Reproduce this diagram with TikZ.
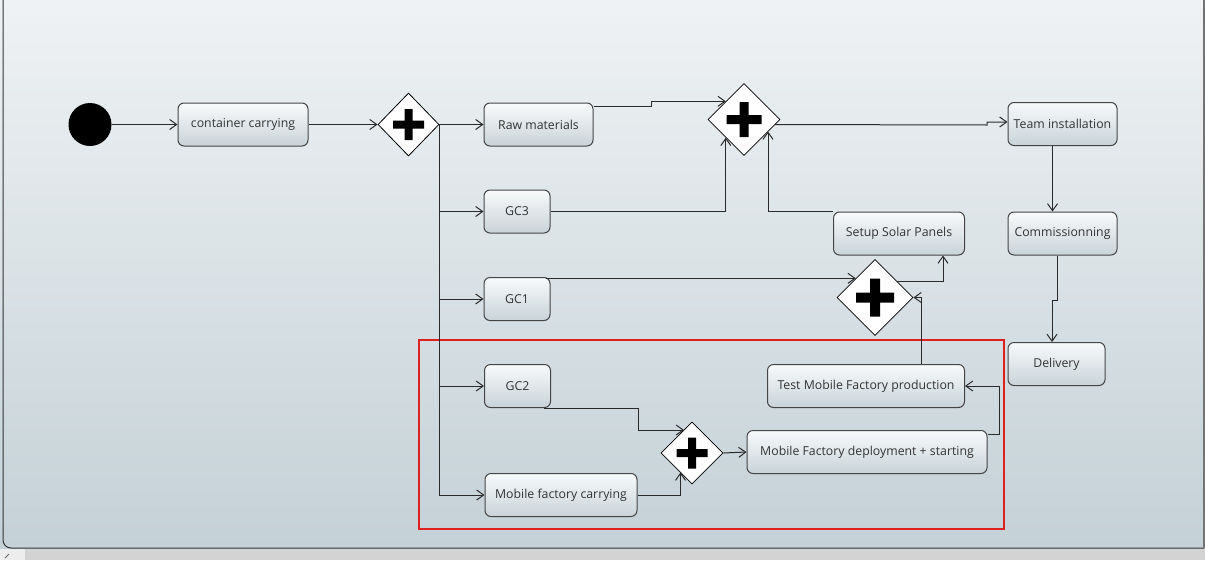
\documentclass[tikz,border=0pt]{standalone}
\usepackage{fontspec}
\setmainfont{Open Sans}
\usetikzlibrary{shapes.geometric,arrows.meta,calc}
\definecolor{bgtop}{HTML}{EFF2F4}
\definecolor{bgbot}{HTML}{C4D1D7}
\definecolor{boxtop}{HTML}{F8FAFB}
\definecolor{boxbot}{HTML}{C9D3D8}
\definecolor{edge}{HTML}{2A2A2A}
\definecolor{boxline}{HTML}{454545}
\definecolor{txt}{HTML}{333333}
\definecolor{redframe}{HTML}{DD2020}
\definecolor{strip}{HTML}{D3D3D3}
\begin{document}
\begin{tikzpicture}[x=1pt,y=-1pt,
  act/.style={draw=boxline,line width=1pt,rounded corners=6pt,top color=boxtop,bottom color=boxbot,
    minimum height=43pt,inner sep=0pt,text=txt,font=\fontsize{12.3}{14}\selectfont},
  bar/.style={diamond,draw=black,line width=0.8pt,fill=white,inner sep=0pt},
  arr/.style={draw=edge,line width=1pt,-{Straight Barb[length=7pt,width=10pt]}},
  ln/.style={draw=edge,line width=1pt}]
\useasboundingbox (0,0) rectangle (1205,560);
% background
\shade[top color=bgtop,bottom color=bgbot] (0,0) rectangle (1205,548);
\fill[strip] (0,549) rectangle (1205,560);
\fill[white!93!black] (0,549) rectangle (25,560);
\draw[black!60,line width=0.8pt] (5,558) -- (9,554);
\draw[black!80,line width=1pt,rounded corners=8pt] (3,-5) -- (3,548) -- (1204,548);
\draw[black!55,line width=1.2pt] (1204,-5) -- (1204,548);
% red frame
\draw[redframe,line width=1.8pt] (419,340) rectangle (1004,529);
% nodes
\node[circle,fill=black,minimum size=43pt,inner sep=0pt] (start) at (90,124.5) {};
\node[act,minimum width=130pt] (cc) at (243,124.5) {container carrying};
\node[bar,minimum width=61pt,minimum height=63pt] (f1) at (408.5,124.5) {};
\node[act,minimum width=109pt] (raw) at (538.5,124.5) {Raw materials};
\node[act,minimum width=66pt] (gc3) at (517,211.5) {GC3};
\node[act,minimum width=66pt] (gc1) at (517,299) {GC1};
\node[act,minimum width=66pt] (gc2) at (517.5,386) {GC2};
\node[act,minimum width=152pt] (mfc) at (561,495) {Mobile factory carrying};
\node[bar,minimum width=62pt,minimum height=62pt] (j3) at (692,453) {};
\node[act,minimum width=240pt] (deploy) at (867,452) {Mobile Factory deployment + starting};
\node[act,minimum width=197pt] (test) at (866,386) {Test Mobile Factory production};
\node[bar,minimum width=72pt,minimum height=72pt] (j1) at (744,119.5) {};
\node[bar,minimum width=76pt,minimum height=76pt] (j2) at (875,297.5) {};
\node[act,minimum width=131pt] (setup) at (899,233.5) {Setup Solar Panels};
\node[act,minimum width=109pt] (team) at (1062.5,124) {Team installation};
\node[act,minimum width=109pt] (comm) at (1062.5,233.5) {Commissionning};
\node[act,minimum width=97pt] (deliv) at (1056.5,364) {Delivery};
% plus marks
\foreach \n/\a/\t in {f1/15.5/4,j3/15.5/4,j1/17.5/4.5,j2/19/5}{
  \fill[black,shift={(\n.center)}] (-\a,-\t) rectangle (\a,\t) (-\t,-\a) rectangle (\t,\a);
}
% helper coordinates
\coordinate (g1s) at ($(gc1.north east)+(-5,0)$);
\coordinate (g2s) at ($(gc2.south east)+(-7,0.5)$);
% connectors
\draw[arr] (start) -- (cc);
\draw[arr] (cc) -- (f1);
\draw[arr] (f1.east) -- (raw.west);
\draw[ln] (f1.east) -- (f1.east |- mfc.west);
\draw[arr] (f1.east |- gc3.west) -- (gc3.west);
\draw[arr] (f1.east |- gc1.west) -- (gc1.west);
\draw[arr] (f1.east |- gc2.west) -- (gc2.west);
\draw[arr] (f1.east |- mfc.west) -- (mfc.west);
\draw[arr] ($(raw.east)+(0,-18)$) -- ++(58,0) |- (j1.north west);
\draw[arr] (gc3.east) -| (j1.south west);
\draw[arr] (setup.north west) -| ($(j1.center)+(24,12)$);
\draw[arr] ($(j1.center)+(31,5)$) -- (987,125) |- ($(team.west)+(0,-2)$);
\draw[arr] ($(team.south)+(-10,0)$) -- ($(comm.north)+(-10,0)$);
\draw[arr] ($(comm.south)+(-5.5,0)$) -- ++(0,45) -| ($(deliv.north)+(-4.5,0)$);
\draw[arr] (g1s |- j2.north west) -- (j2.north west);
\draw[arr] ($(j2.center)+(22,-16)$) -| ($(setup.south)+(44,0)$);
\draw[arr] ($(test.north)+(55,0)$) |- (j2.east);
\draw[arr] (g2s) -- ++(94,0) |- ($(j3.center)+(-8,-23)$);
\draw[arr] (mfc.east) -| ($(j3.center)+(-11.5,19.5)$);
\draw[arr] (j3.east) -- (deploy.west);
\draw[arr] ($(deploy.east)+(0,-18)$) -- (999,434) |- (test.east);
\end{tikzpicture}
\end{document}
